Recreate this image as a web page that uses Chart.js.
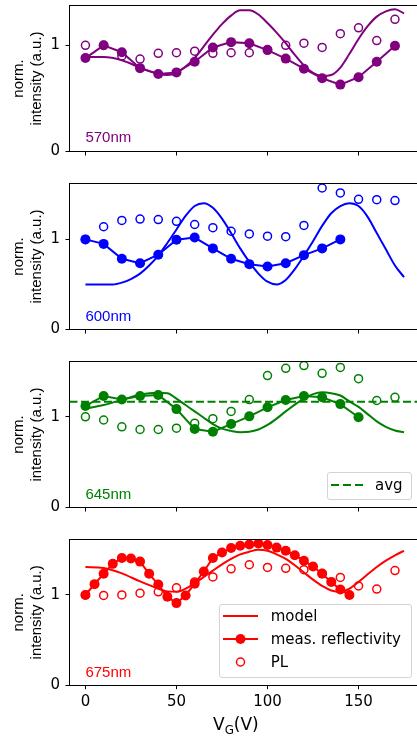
<!DOCTYPE html>
<html>
<head>
<meta charset="utf-8">
<script src="https://cdn.jsdelivr.net/npm/chart.js@4.4.1/dist/chart.umd.min.js"></script>
<style>
  html, body { margin: 0; padding: 0; overflow: hidden; background: #fff; width: 417px; height: 738px; }
  canvas { position: absolute; left: 0; }
  .legend { position: absolute; box-sizing: border-box; border: 1px solid #d4d4d4; border-radius: 3px;
            background: rgba(255,255,255,0.8); font-family: "DejaVu Sans"; font-size: 15px; color: #000; }
  .row { position: absolute; left: 0; height: 20px; line-height: 20px; white-space: nowrap; }
  .row svg { position: absolute; top: 3px; }
  .row span { position: absolute; }
  #xtitle { position: absolute; left: 213px; top: 713px; font-family: "DejaVu Sans"; font-size: 17px; line-height: 22px; }
  #xtitle sub { font-size: 0.7em; vertical-align: -0.3em; }
</style>
</head>
<body>
<canvas id="c0"></canvas>
<canvas id="c1"></canvas>
<canvas id="c2"></canvas>
<canvas id="c3"></canvas>
<div id="xtitle">V<sub>G</sub>(V)</div>
<script>
// axes
var xMin = -8.75, xMax = 183.75;
var xTicks = [0, 50, 100, 150];
var yTicks = [0, 1];
var yTitle = ["norm.", "intensity (a.u.)"];

var names = ["570nm", "600nm", "645nm", "675nm"];
var colors = ["#800080", "#0000ff", "#008000", "#ff0000"];
var yMaxes = [1.375, 1.62, 1.61, 1.615];

// 570nm
var measX570 = [0,10,20,30,40,50,60,70,80,90,100,110,120,130,140,150,160,170];
var meas570 = [0.88,1.00,0.935,0.785,0.73,0.745,0.845,0.98,1.03,1.02,0.955,0.875,0.78,0.69,0.63,0.70,0.845,0.995];
var plX570 = [0,10,20,30,40,50,60,70,80,90,100,110,120,130,140,150,160,170];
var pl570 = [1.0,1.0,0.90,0.87,0.925,0.93,0.945,0.925,0.93,0.93,0.96,1.0,1.02,0.98,1.11,1.165,1.045,1.245];
var modelX570 = [0,10,20,30,40,45,50,55,60,65,70,75,80,85,90,95,100,105,110,115,120,125,130,135,140,145,150,155,160,165,170,175];
var model570 = [0.89,0.89,0.86,0.79,0.73,0.72,0.74,0.80,0.88,0.99,1.10,1.20,1.28,1.33,1.33,1.29,1.21,1.12,1.02,0.91,0.81,0.74,0.71,0.72,0.79,0.92,1.06,1.18,1.27,1.32,1.34,1.30];

// 600nm
var measX600 = [0,10,20,30,40,50,60,70,80,90,100,110,120,130,140];
var meas600 = [1.0,0.95,0.785,0.735,0.83,0.995,1.02,0.90,0.785,0.725,0.70,0.735,0.825,0.90,1.0];
var plX600 = [0,10,20,30,40,50,60,70,80,90,100,110,120,130,140,150,160,170];
var pl600 = [1.0,1.14,1.21,1.225,1.22,1.20,1.165,1.13,1.09,1.06,1.035,1.03,1.155,1.57,1.515,1.445,1.44,1.43];
var modelX600 = [0,10,15,20,25,30,35,40,45,50,55,60,65,70,75,80,85,90,95,100,105,110,115,120,125,130,135,140,145,150,155,160,165,170,175];
var model600 = [0.50,0.50,0.50,0.52,0.56,0.62,0.71,0.82,0.96,1.11,1.26,1.37,1.40,1.35,1.23,1.07,0.90,0.75,0.62,0.53,0.50,0.55,0.67,0.82,0.98,1.15,1.29,1.37,1.40,1.37,1.25,1.07,0.89,0.71,0.58];

// 645nm
var measX645 = [0,10,20,30,40,50,60,70,80,90,100,110,120,130,140,150];
var meas645 = [1.12,1.23,1.19,1.23,1.24,1.085,0.865,0.835,0.92,1.005,1.105,1.185,1.23,1.215,1.14,0.995];
var plX645 = [0,10,20,30,40,50,60,70,80,90,100,110,120,130,140,150,160,170];
var pl645 = [1.0,0.965,0.89,0.86,0.86,0.875,0.93,0.98,1.06,1.19,1.455,1.535,1.565,1.48,1.545,1.42,1.18,1.215];
var modelX645 = [0,10,20,30,40,45,50,55,60,65,70,75,80,85,90,95,100,105,110,115,120,125,130,135,140,145,150,155,160,165,170,175];
var model645 = [1.09,1.13,1.185,1.245,1.265,1.26,1.20,1.13,1.06,0.99,0.92,0.87,0.845,0.83,0.835,0.86,0.91,0.98,1.06,1.135,1.20,1.25,1.27,1.26,1.235,1.17,1.11,1.03,0.95,0.89,0.85,0.83];
var avg645 = 1.167;

// 675nm
var measX675 = [0,5,10,15,20,25,30,35,40,45,50,55,60,65,70,75,80,85,90,95,100,105,110,115,120,125,130,135,140,145];
var meas675 = [1.0,1.12,1.235,1.345,1.41,1.405,1.37,1.235,1.115,0.98,0.91,0.995,1.125,1.26,1.41,1.47,1.52,1.545,1.56,1.57,1.555,1.525,1.49,1.44,1.38,1.315,1.235,1.145,1.06,1.0];
var plX675 = [0,10,20,30,40,50,60,70,80,90,100,110,120,130,140,150,160,170];
var pl675 = [1.0,0.995,1.0,1.02,1.035,1.08,1.145,1.2,1.29,1.335,1.305,1.295,1.28,1.24,1.195,1.1,1.065,1.27];
var modelX675 = [0,10,20,30,40,45,50,55,60,65,70,75,80,85,90,95,100,105,110,115,120,125,130,135,140,145,150,155,160,165,170,175];
var model675 = [1.31,1.30,1.24,1.15,1.07,1.04,1.035,1.07,1.13,1.20,1.27,1.34,1.40,1.45,1.48,1.50,1.49,1.45,1.40,1.33,1.25,1.17,1.10,1.05,1.035,1.07,1.145,1.23,1.31,1.38,1.44,1.49];

var legendLabels = ["model", "meas. reflectivity", "PL"];
var avgLabel = "avg";

function pts(xs, ys) {
  return xs.map(function (x, i) { return { x: x, y: ys[i] }; });
}

var panels = [
  { mx: measX570, my: meas570, px: plX570, py: pl570, lx: modelX570, ly: model570 },
  { mx: measX600, my: meas600, px: plX600, py: pl600, lx: modelX600, ly: model600 },
  { mx: measX645, my: meas645, px: plX645, py: pl645, lx: modelX645, ly: model645, avg: avg645 },
  { mx: measX675, my: meas675, px: plX675, py: pl675, lx: modelX675, ly: model675 }
];

// layout of the four canvases
var canvasTop = [0, 178, 356, 534];
var canvasH = [178, 178, 178, 204];
var padTop = [3, 3, 3, 2.7];
var areaH = 148.5;

var framePlugin = {
  id: "frame",
  afterDraw: function (chart) {
    var a = chart.chartArea, ctx = chart.ctx;
    ctx.save();
    ctx.strokeStyle = "#000";
    ctx.lineWidth = 1;
    ctx.beginPath();
    ctx.moveTo(a.left, a.top);
    ctx.lineTo(a.right, a.top);
    ctx.lineTo(a.right, a.bottom);
    ctx.stroke();
    ctx.restore();
  }
};

var namePlugin = {
  id: "nameLabel",
  afterDatasetsDraw: function (chart, args, opts) {
    var ctx = chart.ctx;
    var x = chart.scales.x.getPixelForValue(0);
    var y = chart.scales.y.getPixelForValue(0.09);
    ctx.save();
    ctx.font = '15px "Liberation Sans"';
    ctx.fillStyle = opts.color;
    ctx.textBaseline = "alphabetic";
    ctx.fillText(opts.text, x, y);
    ctx.restore();
  }
};

panels.forEach(function (p, i) {
  var color = colors[i];
  var isBottom = i === 3;
  var canvas = document.getElementById("c" + i);
  canvas.width = 430;
  canvas.height = canvasH[i];
  canvas.style.top = canvasTop[i] + "px";
  canvas.style.width = "430px";
  canvas.style.height = canvasH[i] + "px";

  var datasets = [
    {
      label: "model", data: pts(p.lx, p.ly), showLine: true,
      borderColor: color, borderWidth: 2, pointRadius: 0,
      cubicInterpolationMode: "monotone", order: 3
    },
    {
      label: "meas. reflectivity", data: pts(p.mx, p.my), showLine: true,
      borderColor: color, borderWidth: 2, tension: 0,
      pointRadius: 5, pointBackgroundColor: color, pointBorderColor: color, pointBorderWidth: 0,
      order: 2
    },
    {
      label: "PL", data: pts(p.px, p.py), showLine: false,
      pointRadius: 4, pointBackgroundColor: "rgba(0,0,0,0)", pointBorderColor: color, pointBorderWidth: 1.5,
      order: 1
    }
  ];
  if (p.avg !== undefined) {
    datasets.push({
      label: "avg", data: [{ x: xMin, y: p.avg }, { x: xMax, y: p.avg }], showLine: true,
      borderColor: color, borderWidth: 2, borderDash: [8, 3.5], pointRadius: 0, order: 0
    });
  }

  var xAxisH = canvasH[i] - padTop[i] - areaH;

  new Chart(canvas, {
    type: "scatter",
    data: { datasets: datasets },
    options: {
      responsive: false,
      animation: false,
      devicePixelRatio: 1,
      layout: { padding: { top: padTop[i], right: 10, left: 0, bottom: 0 } },
      plugins: {
        legend: { display: false },
        tooltip: { enabled: false },
        nameLabel: { text: names[i], color: color }
      },
      scales: {
        x: {
          type: "linear", min: xMin, max: xMax,
          afterBuildTicks: function (s) { s.ticks = xTicks.map(function (v) { return { value: v }; }); },
          afterFit: function (s) { s.height = xAxisH; s.paddingLeft = 0; s.paddingRight = 0; },
          ticks: { display: isBottom, color: "#000", font: { family: "DejaVu Sans", size: 15 },
                   padding: 4, maxRotation: 0, autoSkip: false },
          grid: { drawOnChartArea: false, drawTicks: true, tickLength: 4, tickColor: "#000", tickWidth: 1 },
          border: { display: true, color: "#000", width: 1 }
        },
        y: {
          type: "linear", min: 0, max: yMaxes[i],
          afterBuildTicks: function (s) { s.ticks = yTicks.map(function (v) { return { value: v }; }); },
          afterFit: function (s) { s.width = 69.5; s.paddingTop = 0; s.paddingBottom = 0; },
          ticks: { color: "#000", font: { family: "DejaVu Sans", size: 15 }, padding: 5.5, autoSkip: false },
          grid: { drawOnChartArea: false, drawTicks: true, tickLength: 4, tickColor: "#000", tickWidth: 1 },
          border: { display: true, color: "#000", width: 1 },
          title: {
            display: true, text: yTitle, color: "#000",
            font: { family: "Liberation Sans", size: 15, lineHeight: 1.22 },
            padding: { top: 9.3, bottom: 0 }
          }
        }
      }
    },
    plugins: [framePlugin, namePlugin]
  });
});

// legends drawn as page elements
function handleSvg(kind, color) {
  var s = '<svg width="40" height="14" xmlns="http://www.w3.org/2000/svg">';
  if (kind === "line" || kind === "linemarker") {
    s += '<line x1="0" y1="7" x2="35" y2="7" stroke="' + color + '" stroke-width="2"/>';
  }
  if (kind === "dash") {
    s += '<line x1="0" y1="7" x2="33" y2="7" stroke="' + color + '" stroke-width="2" stroke-dasharray="8 4"/>';
  }
  if (kind === "linemarker") {
    s += '<circle cx="17.5" cy="7" r="5" fill="' + color + '"/>';
  }
  if (kind === "marker") {
    s += '<circle cx="17.5" cy="7" r="4" fill="none" stroke="' + color + '" stroke-width="1.5"/>';
  }
  return s + "</svg>";
}

function addLegend(left, top, width, height, entries, rowCenters, textLeft, color) {
  var box = document.createElement("div");
  box.className = "legend";
  box.style.left = left + "px";
  box.style.top = top + "px";
  box.style.width = width + "px";
  box.style.height = height + "px";
  entries.forEach(function (e, k) {
    var row = document.createElement("div");
    row.className = "row";
    row.style.top = (rowCenters[k] - 11) + "px";
    row.style.width = (width - 4) + "px";
    row.innerHTML = handleSvg(e.kind, color).replace("<svg ", '<svg style="left:3.3px" ') +
      '<span style="left:' + textLeft + 'px"></span>';
    row.querySelector("span").textContent = e.label;
    box.appendChild(row);
  });
  document.body.appendChild(box);
}

addLegend(326.7, 471.7, 85, 28.3, [{ label: avgLabel, kind: "dash" }], [13.2], 47.3, colors[2]);
addLegend(219, 604, 193, 74, [
  { label: legendLabels[0], kind: "line" },
  { label: legendLabels[1], kind: "linemarker" },
  { label: legendLabels[2], kind: "marker" }
], [11.7, 35, 58.3], 50.7, colors[3]);
</script>
</body>
</html>
